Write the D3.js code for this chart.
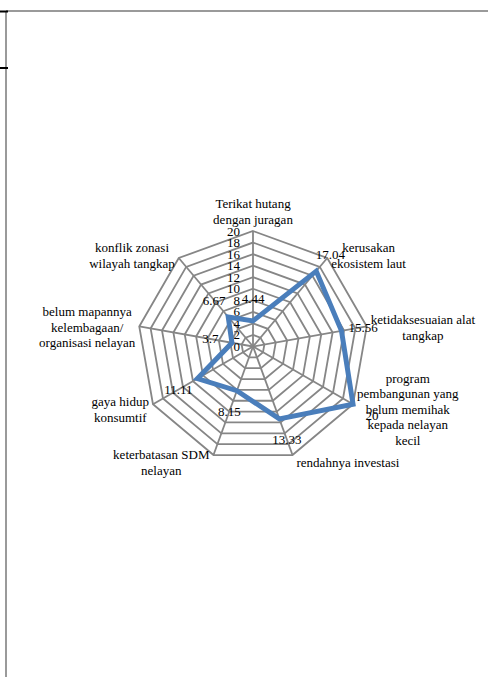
<!DOCTYPE html>
<html>
<head>
<meta charset="utf-8">
<script src="https://cdn.jsdelivr.net/npm/d3@7"></script>
<style>
  html, body { margin: 0; padding: 0; background: #fff; }
  svg { display: block; }
  text { font-family: "Liberation Serif", "Times New Roman", serif; fill: #000; }
</style>
</head>
<body>
<svg id="chart" width="488" height="677"></svg>
<script>
// Radar chart of problems faced by fishing communities (percent).
const categories = [
  "Terikat hutang\ndengan juragan",
  "kerusakan\nekosistem laut",
  "ketidaksesuaian alat\ntangkap",
  "program\npembangunan yang\nbelum memihak\nkepada nelayan\nkecil",
  "rendahnya investasi",
  "keterbatasan SDM\nnelayan",
  "gaya hidup\nkonsumtif",
  "belum mapannya\nkelembagaan/\norganisasi nelayan",
  "konflik zonasi\nwilayah tangkap"
];
const values = [4.44, 17.04, 15.56, 20, 13.33, 8.15, 11.11, 3.7, 6.67];
const valueLabels = ["4.44", "17.04", "15.56", "20", "13.33", "8.15", "11.11", "3.7", "6.67"];
const tickValues = [0, 2, 4, 6, 8, 10, 12, 14, 16, 18, 20];

const svg = d3.select("#chart");

// outer frame of the embedding area
svg.append("line").attr("x1", 6).attr("y1", 11).attr("x2", 488).attr("y2", 11)
  .attr("stroke", "#9a9a9a").attr("stroke-width", 2);
svg.append("line").attr("x1", 6).attr("y1", 11).attr("x2", 6).attr("y2", 677)
  .attr("stroke", "#9a9a9a").attr("stroke-width", 2);
svg.append("line").attr("x1", 0).attr("y1", 11.5).attr("x2", 8).attr("y2", 11.5)
  .attr("stroke", "#000").attr("stroke-width", 2);
svg.append("line").attr("x1", 0).attr("y1", 68).attr("x2", 8).attr("y2", 68)
  .attr("stroke", "#000").attr("stroke-width", 2);

const cx = 253, cy = 346.5, R = 115.5;
const r = d3.scaleLinear().domain([0, 20]).range([0, R]);
const angle = d3.scaleLinear().domain([0, categories.length]).range([0, 2 * Math.PI]);

const pt = (i, v) => [cx + r(v) * Math.sin(angle(i)), cy - r(v) * Math.cos(angle(i))];

const g = svg.append("g");

// polygonal grid rings
const ringLine = d3.line();
tickValues.filter(t => t > 0).forEach(t => {
  const ring = categories.map((_, i) => pt(i, t));
  g.append("path")
    .attr("d", ringLine(ring) + "Z")
    .attr("fill", "none")
    .attr("stroke", "#868686")
    .attr("stroke-width", 1.8);
});

// spokes
categories.forEach((_, i) => {
  const [x, y] = pt(i, 20);
  g.append("line").attr("x1", cx).attr("y1", cy).attr("x2", x).attr("y2", y)
    .attr("stroke", "#868686").attr("stroke-width", 1.8);
});

// radial tick labels along the first axis
g.selectAll("text.tick").data(tickValues).join("text")
  .attr("class", "tick")
  .attr("x", cx - 13)
  .attr("y", d => cy - r(d))
  .attr("text-anchor", "end")
  .attr("dominant-baseline", "central")
  .attr("font-size", 13)
  .text(d => d);

// data series
const series = categories.map((_, i) => pt(i, values[i]));
g.append("path")
  .attr("d", d3.line()(series) + "Z")
  .attr("fill", "none")
  .attr("stroke", "#4a7ebb")
  .attr("stroke-width", 5)
  .attr("stroke-linejoin", "miter");

// value labels placed just outside each point
values.forEach((v, i) => {
  const [x, y] = pt(i, v);
  const a = angle(i);
  g.append("text")
    .attr("x", x + 22 * Math.sin(a))
    .attr("y", y - 22 * Math.cos(a))
    .attr("text-anchor", "middle")
    .attr("dominant-baseline", "central")
    .attr("font-size", 13)
    .text(valueLabels[i]);
});

// category labels, lines centred within each label block
const lh = 15.5;
categories.forEach((c, i) => {
  const lines = c.split("\n");
  const a = angle(i);
  const [vx, vy] = pt(i, 20);
  const block = g.append("g");
  const texts = lines.map((s, k) => block.append("text")
    .attr("font-size", 13)
    .attr("text-anchor", "middle")
    .attr("dominant-baseline", "central")
    .attr("y", k * lh)
    .text(s));
  const w = d3.max(texts, t => t.node().getComputedTextLength());
  const h = (lines.length - 1) * lh;
  const s = Math.sin(a);
  let bx, by;
  if (Math.abs(s) < 1e-6) {
    bx = vx;
    by = vy - 12 - h;
  } else {
    bx = s > 0 ? vx + 4 + w / 2 : vx - 4 - w / 2;
    by = vy - 6 * Math.cos(a) - h / 2 + 2;
  }
  block.attr("transform", `translate(${bx},${by})`);
});
</script>
</body>
</html>
